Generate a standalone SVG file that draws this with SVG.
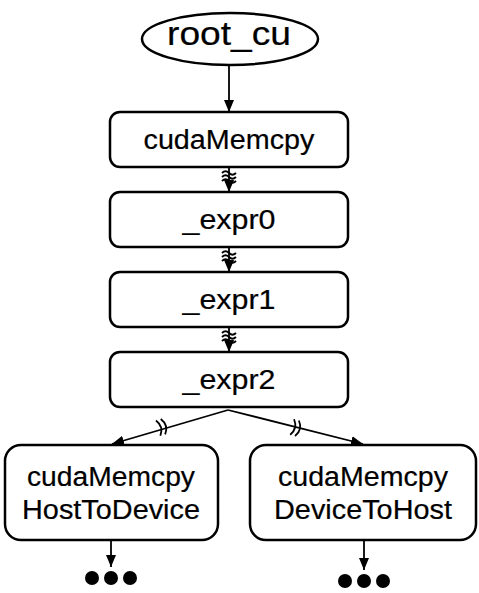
<svg xmlns="http://www.w3.org/2000/svg" width="479" height="593" viewBox="0 0 479 593">
<defs>
<style>
.node{fill:#fff;stroke:#000;stroke-width:2.5}
.lbl{font-family:"Liberation Sans",Arial,sans-serif;font-size:27px;fill:#000;stroke:#000;stroke-width:0.2;text-anchor:middle}
.edge{stroke:#000;stroke-width:1.8;fill:none}
.wave{stroke:#000;stroke-width:1.8;fill:none}
.dot{fill:#000}
</style>
<marker id="arr" viewBox="0 0 12 10" markerWidth="12" markerHeight="10" refX="12" refY="5" orient="auto" markerUnits="userSpaceOnUse">
<path d="M0,0 L12,5 L0,10 z" fill="#000"/>
</marker>
</defs>
<rect width="479" height="593" fill="#fff"/>

<g id="connectors">
<line class="edge" x1="229" y1="65" x2="229" y2="112" marker-end="url(#arr)"/>
<g id="e1">
<line class="edge" x1="229" y1="168" x2="229" y2="192" marker-end="url(#arr)"/>
<path class="wave" d="M222,173 q3.5,-3.5 7,0 t7,0 M222,177 q3.5,-3.5 7,0 t7,0 M222,181 q3.5,-3.5 7,0 t7,0"/>
</g>
<g id="e2">
<line class="edge" x1="229" y1="248" x2="229" y2="272" marker-end="url(#arr)"/>
<path class="wave" d="M222,253 q3.5,-3.5 7,0 t7,0 M222,257 q3.5,-3.5 7,0 t7,0 M222,261 q3.5,-3.5 7,0 t7,0"/>
</g>
<g id="e3">
<line class="edge" x1="229" y1="328" x2="229" y2="352" marker-end="url(#arr)"/>
<path class="wave" d="M222,333 q3.5,-3.5 7,0 t7,0 M222,337 q3.5,-3.5 7,0 t7,0 M222,341 q3.5,-3.5 7,0 t7,0"/>
</g>
<line class="edge" x1="228" y1="410" x2="112" y2="444" marker-end="url(#arr)"/>
<path class="wave" transform="translate(162,427) rotate(-16)" d="M-4,-8 q6,8 0,16 M1,-8 q6,8 0,16"/>
<line class="edge" x1="228" y1="410" x2="363" y2="444" marker-end="url(#arr)"/>
<path class="wave" transform="translate(296,428) rotate(14)" d="M-4,-8 q6,8 0,16 M1,-8 q6,8 0,16"/>
<line class="edge" x1="111" y1="540" x2="111" y2="567" marker-end="url(#arr)"/>
<line class="edge" x1="364" y1="540" x2="364" y2="570" marker-end="url(#arr)"/>
</g>

<g id="root_cu">
<ellipse class="node" cx="230" cy="39" rx="88" ry="26"/>
<text class="lbl" x="229" y="45" style="font-size:33px" textLength="124" lengthAdjust="spacingAndGlyphs">root_cu</text>
</g>
<g id="cudaMemcpy">
<rect class="node" x="110" y="112" width="238" height="55" rx="10"/>
<text class="lbl" x="229" y="149" textLength="171" lengthAdjust="spacingAndGlyphs">cudaMemcpy</text>
</g>
<g id="expr0">
<rect class="node" x="110" y="192" width="238" height="55" rx="10"/>
<text class="lbl" x="229" y="229" textLength="93" lengthAdjust="spacingAndGlyphs">_expr0</text>
</g>
<g id="expr1">
<rect class="node" x="110" y="272" width="238" height="55" rx="10"/>
<text class="lbl" x="229" y="309" textLength="93" lengthAdjust="spacingAndGlyphs">_expr1</text>
</g>
<g id="expr2">
<rect class="node" x="110" y="352" width="238" height="55" rx="10"/>
<text class="lbl" x="229" y="389" textLength="93" lengthAdjust="spacingAndGlyphs">_expr2</text>
</g>
<g id="htod">
<rect class="node" x="5" y="445" width="213" height="95" rx="16"/>
<text class="lbl" x="111" y="486" textLength="168" lengthAdjust="spacingAndGlyphs">cudaMemcpy</text>
<text class="lbl" x="111" y="519" textLength="178" lengthAdjust="spacingAndGlyphs">HostToDevice</text>
</g>
<g id="dtoh">
<rect class="node" x="250" y="445" width="226" height="95" rx="16"/>
<text class="lbl" x="363" y="486" textLength="170" lengthAdjust="spacingAndGlyphs">cudaMemcpy</text>
<text class="lbl" x="363" y="519" textLength="178" lengthAdjust="spacingAndGlyphs">DeviceToHost</text>
</g>
<g id="more_left">
<circle class="dot" cx="92" cy="578" r="7"/>
<circle class="dot" cx="111" cy="578" r="7"/>
<circle class="dot" cx="130" cy="578" r="7"/>
</g>
<g id="more_right">
<circle class="dot" cx="345" cy="581" r="7"/>
<circle class="dot" cx="364" cy="581" r="7"/>
<circle class="dot" cx="383" cy="581" r="7"/>
</g>
</svg>
